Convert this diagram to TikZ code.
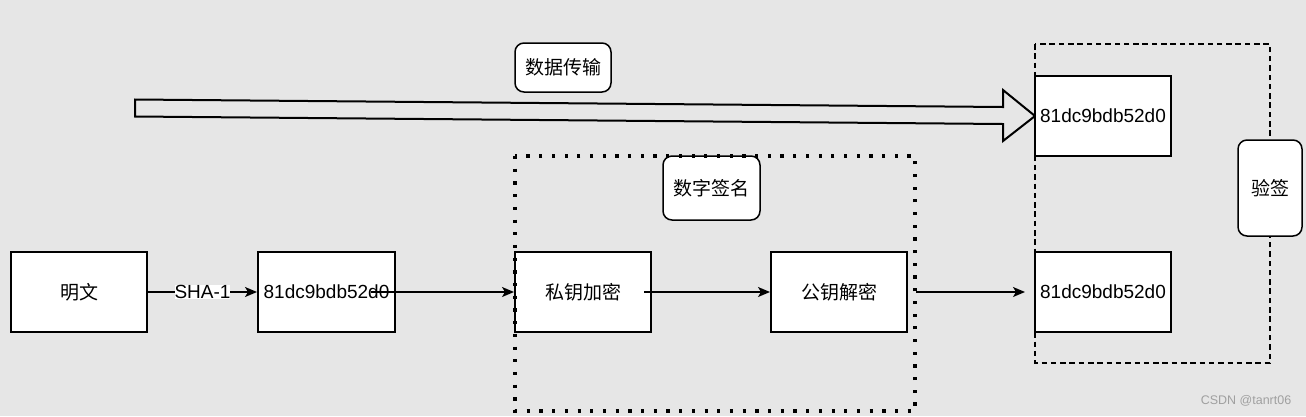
\documentclass[tikz,border=0pt]{standalone}
\usepackage{fontspec}
\setmainfont{Liberation Sans}
\newfontfamily\cjk{Noto Sans CJK SC}
\usepackage{tikz}
\usetikzlibrary{arrows.meta}

\definecolor{bggray}{RGB}{230,230,230}
\definecolor{markgray}{RGB}{160,160,160}

\tikzset{
    box/.style={rectangle, draw, line width=2pt, fill=white,
        minimum width=136pt, minimum height=80pt, inner sep=0pt,
        font=\fontsize{19pt}{22pt}\selectfont},
    tag/.style={rectangle, rounded corners=9pt, draw, line width=1.5pt, fill=white,
        inner sep=0pt, font=\fontsize{19pt}{22pt}\selectfont},
    link/.style={-{Stealth[length=12pt,width=10pt,inset=3pt]}, line width=1.5pt},
}

\begin{document}
\begin{tikzpicture}[x=1pt, y=-1pt]
    \fill[bggray] (0,0) rectangle (1306,416);
    \useasboundingbox (0,0) rectangle (1306,416);

    % data transfer arrow
    \draw[line width=2pt, line join=miter] (135,99.5) -- (1003,107) -- (1003,90) -- (1035,116)
        -- (1003,141) -- (1003,124) -- (135,116.5) -- cycle;
    \node[tag, minimum width=96pt, minimum height=49pt] (trans) at (563,67.5) {\cjk 数据传输};

    % verify frame
    \draw[dashed, line width=2pt, dash pattern=on 5.5pt off 3.8pt] (1035,44) rectangle (1270,363);

    \node[box] (plain) at (79,292) {\cjk 明文};
    \node[box, minimum width=137pt] (hashA) at (326.5,292) {81dc9bdb52d0};
    \node[box] (enc) at (583,292) {\cjk 私钥加密};
    \node[box] (dec) at (839,292) {\cjk 公钥解密};
    \node[box] (hashT) at (1103,116) {81dc9bdb52d0};
    \node[box] (hashB) at (1103,292) {81dc9bdb52d0};

    \node[tag, minimum width=97pt, minimum height=64pt] (sign) at (711.5,188) {\cjk 数字签名};
    \node[tag, minimum width=64pt, minimum height=96pt] (verify) at (1270,188) {\cjk 验签};

    % signature frame
    \draw[line width=3.2pt, dash pattern=on 3.2pt off 9.5pt] (515,156) rectangle (915,411);

    \draw[link] (plain.east) -- (hashA.west)
        node[midway, fill=white, inner sep=0pt, font=\fontsize{19pt}{22pt}\selectfont] {SHA-1};
    \draw[link] ([xshift=-25pt]hashA.east) -- (enc.west);
    \draw[link] ([xshift=-8pt]enc.east) -- (dec.west);
    \draw[link] ([xshift=8pt]dec.east) -- ([xshift=-9pt]hashB.west);

    \node[text=markgray, font=\fontsize{12.5pt}{14pt}\selectfont] (mark) at (1246,401) {CSDN @tanrt06};
\end{tikzpicture}
\end{document}
